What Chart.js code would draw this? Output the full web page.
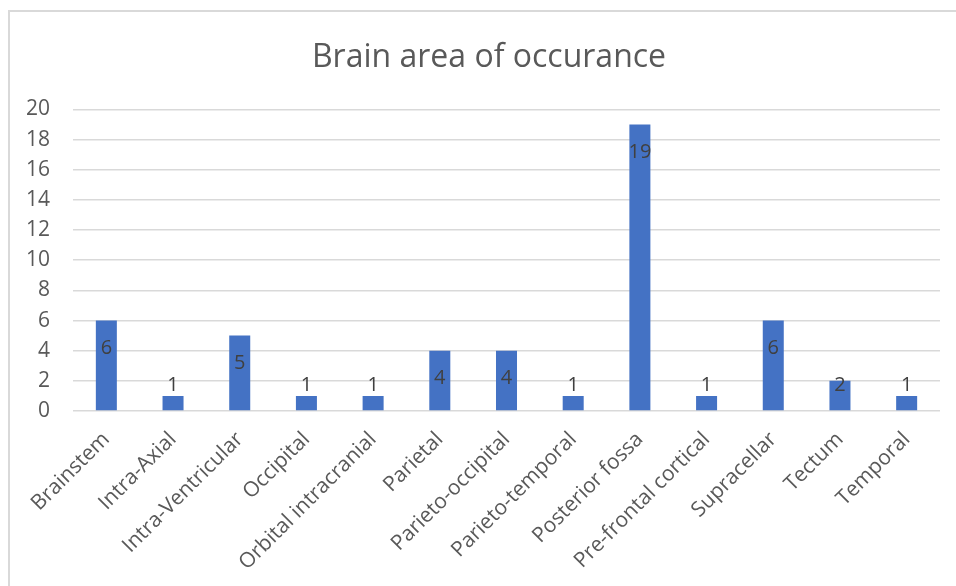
<!DOCTYPE html>
<html>
<head>
<meta charset="utf-8">
<title>Brain area of occurance</title>
<script src="https://cdn.jsdelivr.net/npm/chart.js@4.4.1/dist/chart.umd.min.js"></script>
<style>
  html, body { margin: 0; padding: 0; background: #ffffff; }
  #wrap { width: 956px; height: 586px; position: relative; }
</style>
</head>
<body>
<div id="wrap"><canvas id="chart" width="956" height="586"></canvas></div>
<script>
// Brain areas and number of cases in each
const areas = [
  'Brainstem', 'Intra-Axial', 'Intra-Ventricular', 'Occipital',
  'Orbital intracranial', 'Parietal', 'Parieto-occipital', 'Parieto-temporal',
  'Posterior fossa', 'Pre-frontal cortical', 'Supracellar', 'Tectum', 'Temporal'
];
const cases = [6, 1, 5, 1, 1, 4, 4, 1, 19, 1, 6, 2, 1];
const yTicks = [0, 2, 4, 6, 8, 10, 12, 14, 16, 18, 20];

const FONT = '"Open Sans", "Noto Sans", "DejaVu Sans", sans-serif';

// White background plus the thin grey frame around the chart
const framePlugin = {
  id: 'frame',
  afterLayout(chart) {
    // centre the title over the framed region rather than the whole canvas
    if (chart.titleBlock) chart.titleBlock.left = 38;
  },
  beforeDraw(chart) {
    const ctx = chart.ctx;
    ctx.save();
    ctx.fillStyle = '#ffffff';
    ctx.fillRect(0, 0, chart.width, chart.height);
    ctx.strokeStyle = '#d9d9d9';
    ctx.lineWidth = 2;
    ctx.strokeRect(9, 11, chart.width + 20, chart.height + 20);
    ctx.restore();
  }
};

// Value labels placed just inside the top of each bar
const valueLabels = {
  id: 'valueLabels',
  afterDatasetsDraw(chart) {
    const ctx = chart.ctx;
    const meta = chart.getDatasetMeta(0);
    const values = chart.data.datasets[0].data;
    ctx.save();
    ctx.font = '20px ' + FONT;
    ctx.fillStyle = '#404040';
    ctx.textAlign = 'center';
    ctx.textBaseline = 'middle';
    meta.data.forEach((bar, i) => {
      const y = Math.min(bar.y + 28, bar.base - 25);
      ctx.fillText(String(values[i]), bar.x, y);
    });
    ctx.restore();
  }
};

new Chart(document.getElementById('chart'), {
  type: 'bar',
  data: {
    labels: areas,
    datasets: [{
      data: cases,
      backgroundColor: '#4472c4',
      borderWidth: 0,
      categoryPercentage: 1,
      barPercentage: 0.315
    }]
  },
  options: {
    responsive: false,
    animation: false,
    devicePixelRatio: 1,
    layout: { padding: { left: 10, right: 16, top: 0, bottom: 0 } },
    plugins: {
      legend: { display: false },
      tooltip: { enabled: false },
      title: {
        display: true,
        text: 'Brain area of occurance',
        color: '#595959',
        font: { family: FONT, size: 32, weight: 'normal' },
        padding: { top: 39, bottom: 32 }
      }
    },
    scales: {
      x: {
        grid: { display: false },
        border: { display: false },
        ticks: {
          color: '#595959',
          font: { family: FONT, size: 21 },
          maxRotation: 45,
          minRotation: 45,
          autoSkip: false,
          padding: 8
        },
        afterFit(scale) { scale.height = 175; }
      },
      y: {
        min: 0,
        max: 20,
        afterBuildTicks(scale) { scale.ticks = yTicks.map(v => ({ value: v })); },
        grid: { color: '#d9d9d9', lineWidth: 1.5, drawTicks: false },
        border: { display: false },
        ticks: {
          color: '#595959',
          font: { family: FONT, size: 21 },
          padding: 23
        },
        afterFit(scale) { scale.width = 63; }
      }
    }
  },
  plugins: [framePlugin, valueLabels]
});
</script>
</body>
</html>
